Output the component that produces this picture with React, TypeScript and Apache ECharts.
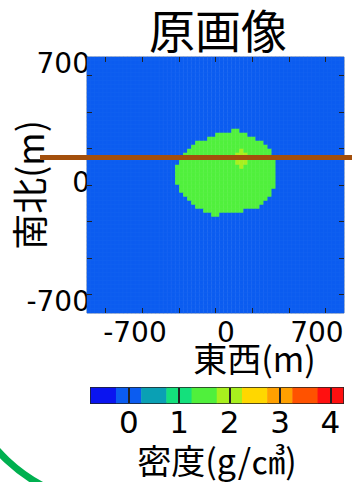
import React, { useEffect, useRef } from "react";
import * as echarts from "echarts";

// ---- data ----
const GRID_N = 64; // cells per side over -700..700 m
const BACKGROUND_DENSITY = 0;
const BLOB_DENSITY = 1.5;
const SPOT_DENSITY = 2;
// [row from top, first column, last column]
const BLOB_ROWS: number[][] = [
  [18, 36, 37],
  [19, 32, 39],
  [20, 30, 41],
  [21, 27, 43],
  [22, 26, 44],
  [23, 25, 45],
  [24, 24, 45],
  [25, 23, 46],
  [26, 23, 46],
  [27, 22, 46],
  [28, 22, 46],
  [29, 22, 46],
  [30, 22, 46],
  [31, 22, 46],
  [32, 23, 46],
  [33, 23, 45],
  [34, 24, 45],
  [35, 25, 44],
  [36, 26, 43],
  [37, 27, 42],
  [38, 29, 38],
  [39, 31, 32],
];
const SPOT_ROWS: number[][] = [
  [23, 38, 38],
  [24, 37, 39],
  [25, 37, 39],
  [26, 37, 39],
  [27, 38, 38],
];
const BAND_VALUES = [-0.5, 0, 0.5, 1, 1.5, 2, 2.5, 3, 3.5, 4];
const BAND_COLORS = [
  "#0a14f0",
  "#0b5cf0",
  "#0aa0b4",
  "#14e07c",
  "#50f03c",
  "#a8f01e",
  "#ffd700",
  "#ffa000",
  "#ff5200",
  "#ff1010",
];
const AXIS_TICKS = [-600, -400, -200, 0, 200, 400, 600];
const X_LABELS = [-700, 0, 700];
const Y_LABELS = [-700, 0, 700];
const CB_LABELS = [0, 1, 2, 3, 4];
const PROFILE_Y = 150; // m, brown profile line

const DIGIT_FONT = '"DejaVu Sans", "Noto Sans CJK JP", sans-serif';
const CJK_FONT = '"Noto Sans CJK JP", sans-serif';

export default function App() {
  const ref = useRef<HTMLDivElement>(null);
  useEffect(() => {
    const chart = echarts.init(ref.current!, null, { renderer: "svg" });
    const cells: number[][] = [];
    for (let r = 0; r < GRID_N; r++)
      for (let c = 0; c < GRID_N; c++) cells.push([c, r, BACKGROUND_DENSITY]);
    const fill = (rows: number[][], v: number) =>
      rows.forEach(([r, a, b]) => {
        for (let c = a; c <= b; c++) cells[r * GRID_N + c][2] = v;
      });
    fill(BLOB_ROWS, BLOB_DENSITY);
    fill(SPOT_ROWS, SPOT_DENSITY);
    const idx = Array.from({ length: GRID_N }, (_, i) => String(i));

    const tickAxis = (position: string) => ({
      type: "value",
      gridIndex: 0,
      min: -700,
      max: 700,
      position,
      z: 10,
      axisLine: { show: false, onZero: false },
      splitLine: { show: false },
      axisLabel: { show: false },
      axisTick: {
        show: true,
        inside: true,
        length: 5,
        customValues: AXIS_TICKS,
        lineStyle: { color: "#222", width: 1 },
      },
    });

    chart.setOption({
      animation: false,
      title: {
        text: "原画像",
        left: 144,
        top: 1,
        textStyle: {
          fontFamily: CJK_FONT,
          fontSize: 46,
          lineHeight: 44,
          fontWeight: "normal",
          color: "#000",
        },
      },
      visualMap: {
        type: "piecewise",
        show: false,
        seriesIndex: [0, 1],
        pieces: BAND_VALUES.map((v, i) => ({ value: v, color: BAND_COLORS[i] })),
      },
      grid: [
        {
          left: 87,
          top: 57,
          width: 257,
          height: 256,
          show: true,
          borderColor: "#999",
          borderWidth: 1,
          outerBoundsMode: "none",
          containLabel: false,
        },
        {
          left: 91,
          top: 388,
          width: 252,
          height: 15,
          show: true,
          borderColor: "#222",
          borderWidth: 2,
          outerBoundsMode: "none",
          containLabel: false,
        },
      ],
      xAxis: [
        { type: "category", gridIndex: 0, data: idx, show: false },
        tickAxis("bottom"),
        tickAxis("top"),
        {
          type: "value",
          gridIndex: 0,
          min: -1069,
          max: 908,
          position: "bottom",
          axisLine: { show: false, onZero: false },
          axisTick: { show: false },
          splitLine: { show: false },
          axisLabel: {
            customValues: X_LABELS,
            fontFamily: DIGIT_FONT,
            fontSize: 28,
            lineHeight: 22,
            color: "#000",
            margin: 8,
          },
          name: "東西(m)",
          nameLocation: "middle",
          nameGap: 30,
          nameMoveOverlap: false,
          nameTextStyle: {
            fontFamily: CJK_FONT,
            fontSize: 34,
            lineHeight: 28,
            color: "#000",
            padding: [0, 0, 0, 78],
          },
        },
        { type: "category", gridIndex: 1, data: BAND_VALUES.map(String), show: false },
        {
          type: "value",
          gridIndex: 1,
          min: -0.75,
          max: 4.25,
          position: "bottom",
          z: 10,
          axisLine: { show: false, onZero: false },
          splitLine: { show: false },
          axisTick: {
            show: true,
            inside: true,
            length: 15,
            customValues: CB_LABELS,
            lineStyle: { color: "#222", width: 2 },
          },
          axisLabel: {
            customValues: CB_LABELS,
            fontFamily: DIGIT_FONT,
            fontSize: 31,
            lineHeight: 26,
            color: "#000",
            margin: 6,
          },
          name: "密度(g/㎤)",
          nameLocation: "middle",
          nameGap: 41,
          nameMoveOverlap: false,
          nameTextStyle: { fontFamily: CJK_FONT, fontSize: 34, lineHeight: 30, color: "#000" },
        },
      ],
      yAxis: [
        { type: "category", gridIndex: 0, data: idx, inverse: true, show: false },
        tickAxis("left"),
        tickAxis("right"),
        {
          type: "value",
          gridIndex: 0,
          min: -765,
          max: 741,
          position: "left",
          axisLine: { show: false, onZero: false },
          axisTick: { show: false },
          splitLine: { show: false },
          axisLabel: {
            customValues: Y_LABELS,
            fontFamily: DIGIT_FONT,
            fontSize: 28,
            color: "#000",
            margin: -3,
          },
          name: "南北(m)",
          nameLocation: "middle",
          nameRotate: 90,
          nameGap: 41,
          nameMoveOverlap: false,
          nameTextStyle: { fontFamily: CJK_FONT, fontSize: 36, color: "#000" },
        },
        { type: "category", gridIndex: 1, data: ["d"], show: false },
      ],
      series: [
        {
          type: "heatmap",
          xAxisIndex: 0,
          yAxisIndex: 0,
          data: cells,
          progressive: 0,
          itemStyle: { borderColor: "rgba(255,255,255,0.06)", borderWidth: 0.5 },
          emphasis: { disabled: true },
        },
        {
          type: "heatmap",
          xAxisIndex: 4,
          yAxisIndex: 4,
          data: BAND_VALUES.map((v, i) => [i, 0, v]),
          progressive: 0,
          emphasis: { disabled: true },
        },
      ],
    });

    const py = chart.convertToPixel({ yAxisIndex: 1 }, PROFILE_Y) as number;
    chart.setOption({
      graphic: [
        {
          type: "line",
          z: 100,
          shape: { x1: 40, y1: py, x2: 352, y2: py },
          style: { stroke: "#a34f0c", lineWidth: 5 },
        },
        {
          type: "arc",
          z: 100,
          shape: { cx: 120, cy: 340, r: 165, startAngle: 1.95, endAngle: 2.7 },
          style: { stroke: "#00b050", lineWidth: 7, fill: "none" },
        },
      ],
    });
    return () => chart.dispose();
  }, []);
  return (
    <div
      ref={ref}
      style={{ position: "fixed", left: 0, top: 0, width: 352, height: 482, background: "#fff" }}
    />
  );
}
